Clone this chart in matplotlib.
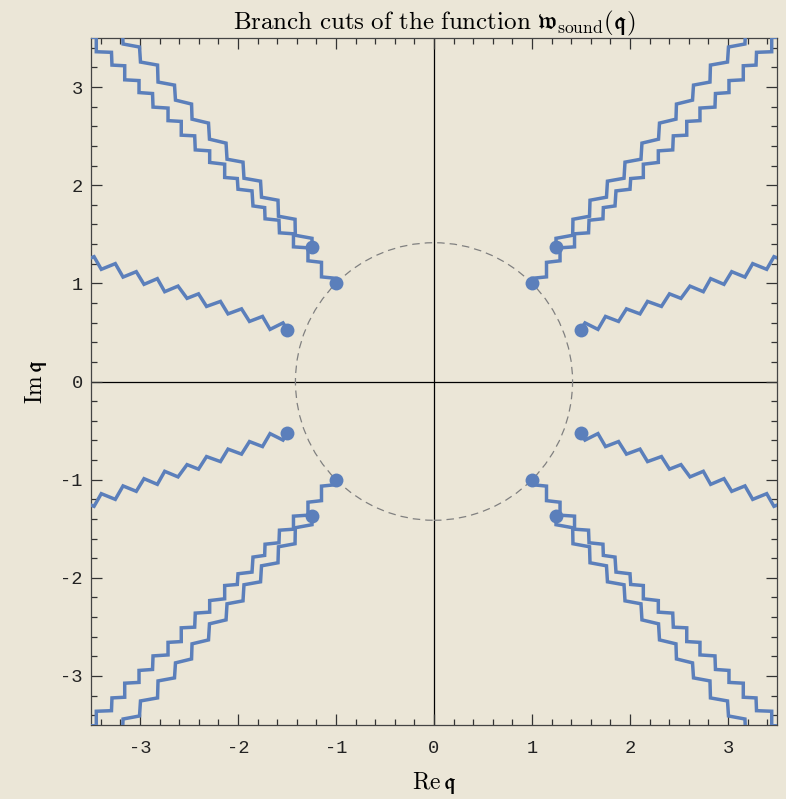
import matplotlib.pyplot as plt
from matplotlib.patches import Circle
from matplotlib.ticker import MultipleLocator
import numpy as np

plt.rcParams['mathtext.fontset'] = 'cm'

# Branch cuts in the first quadrant.
# The picture is mirror symmetric in both axes, so the other three
# quadrants are drawn by flipping signs.
upper_x = [1.245, 1.245, 1.415, 1.418, 1.587, 1.592, 1.760, 1.770, 1.939, 1.949,
           2.112, 2.122, 2.291, 2.301, 2.469, 2.474, 2.638, 2.648, 2.816, 2.821,
           2.995, 3.005, 3.173, 3.179]
upper_y = [1.375, 1.459, 1.490, 1.653, 1.684, 1.847, 1.878, 2.041, 2.071, 2.235,
           2.265, 2.429, 2.469, 2.633, 2.673, 2.827, 2.867, 3.020, 3.051, 3.224,
           3.255, 3.408, 3.439, 3.592]

lower_x = [1.0, 1.0, 1.148, 1.148, 1.286, 1.286, 1.434, 1.434, 1.577, 1.582,
           1.724, 1.728, 1.847, 1.857, 2.000, 2.007, 2.136, 2.136, 2.289, 2.289,
           2.436, 2.442, 2.579, 2.579, 2.714, 2.714, 2.867, 2.872, 3.010, 3.010,
           3.156, 3.156, 3.286, 3.291, 3.446, 3.446, 3.60]
lower_y = [1.0, 1.051, 1.066, 1.214, 1.230, 1.362, 1.372, 1.505, 1.515, 1.643,
           1.658, 1.772, 1.789, 1.942, 1.959, 2.068, 2.079, 2.214, 2.232, 2.350,
           2.360, 2.503, 2.510, 2.650, 2.658, 2.786, 2.796, 2.934, 2.944, 3.066,
           3.074, 3.217, 3.224, 3.354, 3.360, 3.507, 3.51]

zigzag_x = [1.495, 1.541, 1.673, 1.750, 1.883, 1.964, 2.102, 2.179, 2.321, 2.403,
            2.520, 2.612, 2.748, 2.823, 2.959, 3.038, 3.173, 3.252, 3.395, 3.469,
            3.582]
zigzag_y = [0.526, 0.597, 0.531, 0.663, 0.612, 0.740, 0.689, 0.816, 0.765, 0.893,
            0.847, 0.972, 0.915, 1.048, 0.990, 1.119, 1.064, 1.201, 1.143, 1.272,
            1.228]

# branch points (first quadrant)
pts_x = [1.0, 1.245, 1.495]
pts_y = [1.0, 1.375, 0.526]

circle_r = 1.414

ticks = [-3, -2, -1, 0, 1, 2, 3]
tick_labels = ['-3', '-2', '-1', '0', '1', '2', '3']

bg = '#ebe6d7'
blue = '#5b7fbb'

fig = plt.figure(figsize=(7.86, 7.99), dpi=100, facecolor=bg)
ax = fig.add_axes([91/786, 1 - 725/799, 686/786, 687/799], facecolor=bg)

# axes through the origin
ax.axhline(0, color='black', lw=0.9, zorder=1)
ax.axvline(0, color='black', lw=0.9, zorder=1)

ax.add_patch(Circle((0, 0), circle_r, fill=False, ec='#808080', lw=0.9,
                    ls=(0, (6, 4)), zorder=2))

for sx in (1, -1):
    for sy in (1, -1):
        for xs, ys in ((upper_x, upper_y), (lower_x, lower_y), (zigzag_x, zigzag_y)):
            ax.plot(sx*np.array(xs), sy*np.array(ys), color=blue, lw=2.5,
                    solid_joinstyle='miter', zorder=3)
        ax.plot(sx*np.array(pts_x), sy*np.array(pts_y), 'o', color=blue,
                ms=10, mec='none', zorder=4)

ax.set_xlim(-3.5, 3.5)
ax.set_ylim(-3.5, 3.5)

ax.set_xticks(ticks)
ax.set_xticklabels(tick_labels)
ax.set_yticks(ticks)
ax.set_yticklabels(tick_labels)
ax.xaxis.set_minor_locator(MultipleLocator(0.2))
ax.yaxis.set_minor_locator(MultipleLocator(0.2))
ax.tick_params(which='both', direction='in', top=True, right=True,
               color='#333333', width=0.9)
ax.tick_params(which='major', length=8, labelsize=13.5, labelcolor='#222222')
ax.tick_params(axis='x', which='major', pad=11)
ax.tick_params(axis='y', which='major', pad=6)
ax.tick_params(which='minor', length=4)
for lab in ax.get_xticklabels() + ax.get_yticklabels():
    lab.set_family('Liberation Mono')

for s in ax.spines.values():
    s.set_color('#444444')
    s.set_linewidth(0.9)

ax.set_title(r'$\mathrm{Branch\ cuts\ of\ the\ function}\ \mathfrak{w}_{\mathrm{sound}}(\mathfrak{q})$',
             fontsize=18, pad=5)
ax.set_xlabel(r'$\mathrm{Re}\,\mathfrak{q}$', fontsize=17, labelpad=9)
ax.set_ylabel(r'$\mathrm{Im}\,\mathfrak{q}$', fontsize=17, labelpad=8)

fig.savefig('out.png', dpi=100, facecolor=bg)
